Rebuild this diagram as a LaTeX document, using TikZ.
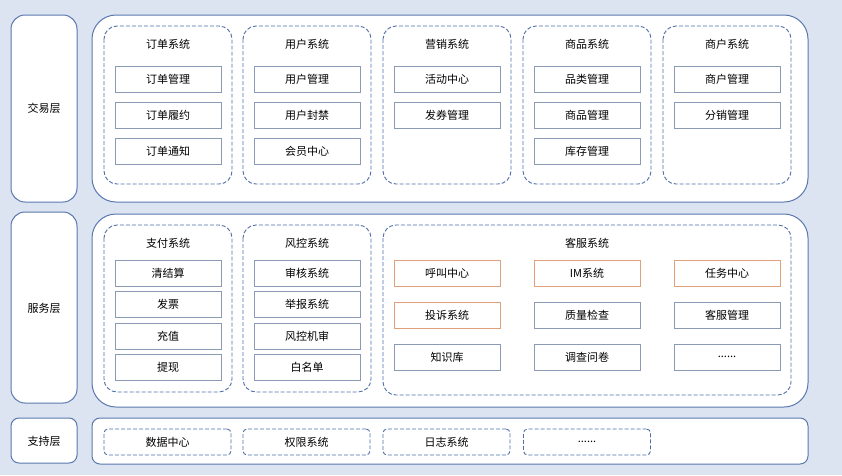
\documentclass[tikz,border=0pt]{standalone}
\usepackage{fontspec}
\setmainfont{Noto Sans CJK SC}
\definecolor{bg}{HTML}{DCE4F2}
\definecolor{frame}{HTML}{5A78AE}
\definecolor{dash}{HTML}{4F6FA8}
\definecolor{item}{HTML}{8C9BB5}
\definecolor{org}{HTML}{E0A07A}
\begin{document}
\begin{tikzpicture}[x=1pt,y=-1pt,
  layer/.style={draw=frame,line width=1pt,fill=white,rounded corners=14pt},
  sys/.style={draw=dash,dash pattern=on 4pt off 2pt,line width=0.9pt,rounded corners=13pt},
  sup/.style={draw=dash,dash pattern=on 4pt off 2pt,line width=0.9pt,rounded corners=4pt,minimum width=127pt,minimum height=26pt,font=\fontsize{11}{13}\selectfont},
  it/.style={draw=item,line width=0.9pt,fill=white,minimum width=106pt,minimum height=26pt,font=\fontsize{11}{13}\selectfont},
  ito/.style={it,draw=org},
  ttl/.style={font=\fontsize{11}{13}\selectfont}]
\fill[bg] (0,0) rectangle (842,475);
\useasboundingbox (0,0) rectangle (842,475);
% layers
\draw[layer] (11,15) rectangle (77,202); \node[ttl] (l1) at (44,108) {交易层};
\draw[layer] (11,212) rectangle (77,403); \node[ttl] (l2) at (44,308) {服务层};
\draw[layer,rounded corners=8pt] (11,418) rectangle (77,463); \node[ttl] (l3) at (44,441) {支持层};
\draw[layer,rounded corners=24pt] (92,15) rectangle (808,202);
\draw[layer,rounded corners=24pt] (92,214) rectangle (808,407);
\draw[layer,rounded corners=8pt] (92,418) rectangle (808,464);
% trade
\foreach \x/\t/\a/\b/\c in {104/订单系统/订单管理/订单履约/订单通知,243/用户系统/用户管理/用户封禁/会员中心,383/营销系统/活动中心/发券管理/,523/商品系统/品类管理/商品管理/库存管理,663/商户系统/商户管理/分销管理/}{
  \draw[sys] (\x,26) rectangle ++(128,158);
  \node[ttl] at (\x+64,44) {\t};
  \node[it] at (\x+64,79) {\a};
  \node[it] at (\x+64,115) {\b};
  \ifx\c\empty\else\node[it] at (\x+64,151) {\c};\fi
}
% service
\foreach \x/\t/\a/\b/\c/\d in {104/支付系统/清结算/发票/充值/提现,243/风控系统/审核系统/举报系统/风控机审/白名单}{
  \draw[sys] (\x,225) rectangle ++(128,167);
  \node[ttl] at (\x+64,243) {\t};
  \node[it] at (\x+64,273) {\a};
  \node[it] at (\x+64,304) {\b};
  \node[it] at (\x+64,336) {\c};
  \node[it] at (\x+64,367) {\d};
}
\draw[sys] (383,225) rectangle (791,395);
\node[ttl] (kf) at (587,243) {客服系统};
\node[ito] (k1) at (447,273) {呼叫中心};
\node[ito] (k2) at (587,273) {IM系统};
\node[ito] (k3) at (727,273) {任务中心};
\node[ito] (k4) at (447,315) {投诉系统};
\node[it] (k5) at (587,315) {质量检查};
\node[it] (k6) at (727,315) {客服管理};
\node[it] (k7) at (447,357) {知识库};
\node[it] (k8) at (587,357) {调查问卷};
\node[it] (k9) at (727,357) {......};
% support
\node[sup] (s1) at (167.5,442) {数据中心};
\node[sup] (s2) at (306.5,442) {权限系统};
\node[sup] (s3) at (446.5,442) {日志系统};
\node[sup] (s4) at (587,442) {......};
\end{tikzpicture}
\end{document}
